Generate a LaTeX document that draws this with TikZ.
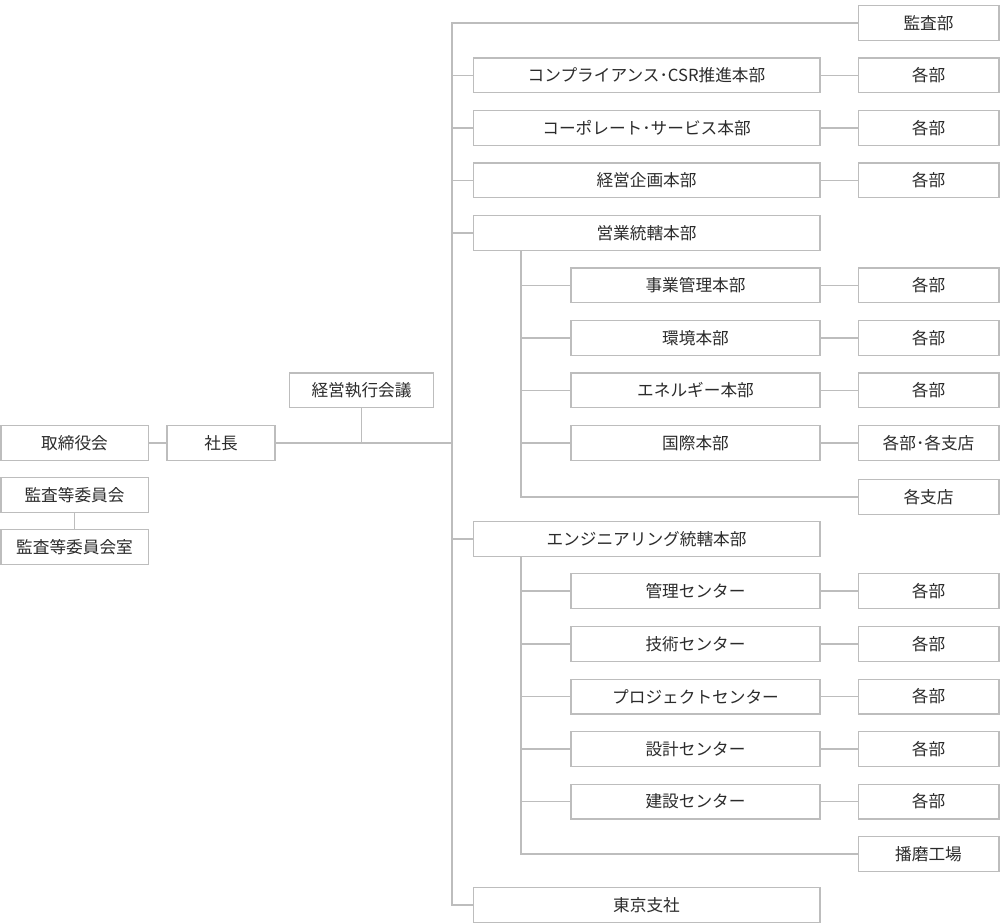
\documentclass[tikz,border=0pt]{standalone}
\usepackage{fontspec}
\setmainfont{Noto Sans CJK JP}
\definecolor{linegray}{HTML}{BDBDBD}
\definecolor{textgray}{HTML}{2B2B2B}
\begin{document}
\begin{tikzpicture}[x=0.75pt,y=-0.75pt,
	line/.style={draw=linegray,line width=1pt},
	box/.style={draw=linegray,line width=1pt,inner sep=0pt,minimum height=26pt,text=textgray,font=\fontsize{12.5}{14}\selectfont},
	wleft/.style={box,minimum width=110.5pt},
	wpres/.style={box,minimum width=81pt},
	wexec/.style={box,minimum width=108pt},
	wone/.style={box,minimum width=260pt},
	wtwo/.style={box,minimum width=186.75pt},
	wend/.style={box,minimum width=105.5pt}]
	\useasboundingbox (0,0) rectangle (1000,923);
	\coordinate (trunk) at (452,0);
	\coordinate (sub) at (521,0);
	% left side
	\node[wleft] (torishimari) at (74.5,443) {取締役会};
	\node[wpres] (shacho) at (221,443) {社長};
	\node[wexec] (shikko) at (361.5,390.5) {経営執行会議};
	\node[wleft] (iinkai) at (74.5,495) {監査等委員会};
	\node[wleft] (iinshitsu) at (74.5,547) {監査等委員会室};
	% head offices
	\node[wend] (kansa) at (928.5,23) {監査部};
	\node[wone] (csr) at (646.5,75.5) {コンプライアンス･CSR推進本部};
	\node[wone] (corp) at (646.5,128) {コーポレート･サービス本部};
	\node[wone] (kikaku) at (646.5,180.5) {経営企画本部};
	\node[wone] (eigyo) at (646.5,233) {営業統轄本部};
	\node[wone] (eng) at (646.5,539) {エンジニアリング統轄本部};
	\node[wone] (tokyo) at (646.5,905) {東京支社};
	% sales side
	\node[wtwo] (jigyo) at (695.5,285.5) {事業管理本部};
	\node[wtwo] (kankyo) at (695.5,338) {環境本部};
	\node[wtwo] (energy) at (695.5,390.5) {エネルギー本部};
	\node[wtwo] (kokusai) at (695.5,443) {国際本部};
	\node[wend] (shiten) at (928.5,497) {各支店};
	% engineering side
	\node[wtwo] (kanri) at (695.5,591) {管理センター};
	\node[wtwo] (gijutsu) at (695.5,644) {技術センター};
	\node[wtwo] (project) at (695.5,696.5) {プロジェクトセンター};
	\node[wtwo] (sekkei) at (695.5,749) {設計センター};
	\node[wtwo] (kensetsu) at (695.5,801.5) {建設センター};
	\node[wend] (harima) at (928.5,854) {播磨工場};
	\foreach \n in {csr,corp,kikaku,jigyo,kankyo,energy,kanri,gijutsu,project,sekkei,kensetsu}{
		\node[wend] (\n-bu) at (\n -| kansa) {各部};
		\draw[line] (\n.east) -- (\n-bu.west);
	}
	\node[wend] (kokusai-bu) at (kokusai -| kansa) {各部･各支店};
	\draw[line] (kokusai.east) -- (kokusai-bu.west);
	% connectors
	\draw[line] (torishimari) -- (shacho);
	\draw[line] (iinkai) -- (iinshitsu);
	\draw[line] (shacho.east) -- (shacho.east -| trunk);
	\draw[line] (shikko.south) -- (shikko.south |- shacho.east);
	\draw[line] (kansa.west) -| (tokyo.west -| trunk) -- (tokyo.west);
	\foreach \n in {csr,corp,kikaku,eigyo,eng}
		\draw[line] (\n.west -| trunk) -- (\n.west);
	\draw[line] (eigyo.south -| sub) |- (shiten.west);
	\draw[line] (eng.south -| sub) |- (harima.west);
	\foreach \n in {jigyo,kankyo,energy,kokusai,kanri,gijutsu,project,sekkei,kensetsu}
		\draw[line] (\n.west -| sub) -- (\n.west);
\end{tikzpicture}
\end{document}
